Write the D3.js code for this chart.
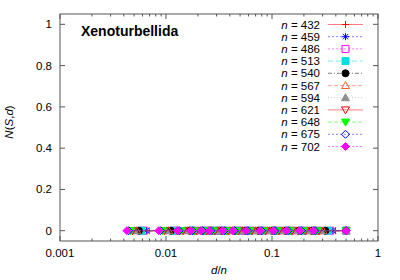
<!DOCTYPE html>
<html><head><meta charset="utf-8">
<script src="https://cdn.jsdelivr.net/npm/d3@7"></script>
<style>body{margin:0;background:#fff}svg{display:block}text{font-family:"Liberation Sans",Arial,sans-serif;fill:#000}</style>
</head><body><svg id="c" width="400" height="280"></svg>
<script>
const title = "Xenoturbellida";
const sizes = [432, 459, 486, 513, 540, 567, 594, 621, 648, 675, 702];
const colors = ["#ff0000","#0000ff","#ff00ff","#00e0e0","#000000","#ff6030","#909090","#ff0000","#00ff00","#0000ff","#ff00ff"];
const markers = ["plus","star","squareOpen","square","circle","triOpen","tri","invTriOpen","invTri","diamondOpen","diamond"];
const dashes = [null,"2,2","2,2","5,3","4,2,1,2","4,2","1,2",null,"4,2","2,2","2,2"];
// distances d at which N(S,d) was evaluated (x = d/n), last point d = n/2
const dValues = [3, 6, 9, 12, 15, 18, 24, 30, 40, 54, 72, 96, 128, 172];
const nsValue = 0; // N(S,d) is zero for all points
const xTicks = [0.001, 0.01, 0.1, 1];
const yTicks = [0, 0.2, 0.4, 0.6, 0.8, 1];

const svg = d3.select("#c");
const L = 60, R = 378, T = 14, B = 241;
const x = d3.scaleLog().domain([0.001, 1]).range([L, R]);
const y = d3.scaleLinear().domain([-0.05, 1.05]).range([B, T]);
const axisCol = "#555";

// ticks
const g = svg.append("g");
const minor = [];
for (let e = -3; e < 0; e++) for (let k = 2; k <= 9; k++) minor.push(k * Math.pow(10, e));
minor.forEach(v => {
  g.append("line").attr("x1", x(v)).attr("x2", x(v)).attr("y1", B).attr("y2", B - 2.5).attr("stroke", axisCol);
  g.append("line").attr("x1", x(v)).attr("x2", x(v)).attr("y1", T).attr("y2", T + 2.5).attr("stroke", axisCol);
});
xTicks.forEach(v => {
  g.append("line").attr("x1", x(v)).attr("x2", x(v)).attr("y1", B).attr("y2", B - 5).attr("stroke", axisCol);
  g.append("line").attr("x1", x(v)).attr("x2", x(v)).attr("y1", T).attr("y2", T + 5).attr("stroke", axisCol);
  g.append("text").attr("x", x(v)).attr("y", B + 16).attr("text-anchor", "middle").attr("font-size", "11.5px").text(d3.format("~g")(v));
});
yTicks.forEach(v => {
  g.append("line").attr("x1", L).attr("x2", L + 5).attr("y1", y(v)).attr("y2", y(v)).attr("stroke", axisCol);
  g.append("line").attr("x1", R).attr("x2", R - 5).attr("y1", y(v)).attr("y2", y(v)).attr("stroke", axisCol);
  g.append("text").attr("x", L - 8).attr("y", y(v) + 4).attr("text-anchor", "end").attr("font-size", "11.5px").text(v);
});
svg.append("rect").attr("x", L).attr("y", T).attr("width", R - L).attr("height", B - T)
  .attr("fill", "none").attr("stroke", axisCol).attr("stroke-width", 1);

// axis labels
const xl = svg.append("text").attr("x", (L + R) / 2).attr("y", 274).attr("text-anchor", "middle").attr("font-size", "11.5px");
xl.append("tspan").attr("font-style", "italic").text("d");
xl.append("tspan").text("/");
xl.append("tspan").attr("font-style", "italic").text("n");
const yl = svg.append("text").attr("transform", "translate(13,122) rotate(-90)").attr("text-anchor", "middle").attr("font-size", "11.5px");
yl.append("tspan").attr("font-style", "italic").text("N");
yl.append("tspan").text("(");
yl.append("tspan").attr("font-style", "italic").text("S");
yl.append("tspan").text(",");
yl.append("tspan").attr("font-style", "italic").text("d");
yl.append("tspan").text(")");

svg.append("text").attr("x", 81).attr("y", 36).attr("font-size", "14px").attr("font-weight", "bold").text(title);

function marker(sel, type, col) {
  const s = 3.5;
  const open = /Open/.test(type);
  let p;
  switch (type) {
    case "plus": p = `M${-s},0H${s}M0,${-s}V${s}`; break;
    case "star": p = `M${-s},0H${s}M0,${-s}V${s}M${-s*0.75},${-s*0.75}L${s*0.75},${s*0.75}M${-s*0.75},${s*0.75}L${s*0.75},${-s*0.75}`; break;
    case "squareOpen": case "square": p = `M${-s},${-s}H${s}V${s}H${-s}Z`; break;
    case "circle": p = d3.symbol(d3.symbolCircle, Math.PI * s * s)(); break;
    case "triOpen": case "tri": p = `M0,${-s-0.5}L${s+0.5},${s-0.5}L${-s-0.5},${s-0.5}Z`; break;
    case "invTriOpen": case "invTri": p = `M0,${s+0.5}L${s+0.5},${-s+0.5}L${-s-0.5},${-s+0.5}Z`; break;
    case "diamondOpen": case "diamond": p = `M0,${-s-0.5}L${s+0.5},0L0,${s+0.5}L${-s-0.5},0Z`; break;
  }
  const stroked = open || type === "plus" || type === "star";
  sel.append("path").attr("d", p)
    .attr("fill", stroked ? "none" : col)
    .attr("stroke", col).attr("stroke-width", 1);
}

// series
sizes.forEach((n, i) => {
  const pts = dValues.filter(d => d < n / 2).map(d => ({ x: d / n, y: nsValue }));
  pts.push({ x: 0.5, y: nsValue });
  const line = d3.line().x(p => x(p.x)).y(p => y(p.y));
  svg.append("path").attr("d", line(pts)).attr("fill", "none").attr("stroke", colors[i])
    .attr("stroke-opacity", 0.5).attr("stroke-dasharray", dashes[i]);
  pts.forEach(p => {
    const gg = svg.append("g").attr("transform", `translate(${x(p.x)},${y(p.y)})`);
    marker(gg, markers[i], colors[i]);
  });
});

// legend
sizes.forEach((n, i) => {
  const yy = 24.5 + i * 12.2;
  const t = svg.append("text").attr("x", 320).attr("y", yy + 4).attr("text-anchor", "end").attr("font-size", "11.5px");
  t.append("tspan").attr("font-style", "italic").text("n");
  t.append("tspan").text(" = " + n);
  svg.append("line").attr("x1", 328).attr("x2", 363).attr("y1", yy).attr("y2", yy)
    .attr("stroke", colors[i]).attr("stroke-opacity", 0.5).attr("stroke-dasharray", dashes[i]);
  const gg = svg.append("g").attr("transform", `translate(345.5,${yy})`);
  marker(gg, markers[i], colors[i]);
});
</script></body></html>
